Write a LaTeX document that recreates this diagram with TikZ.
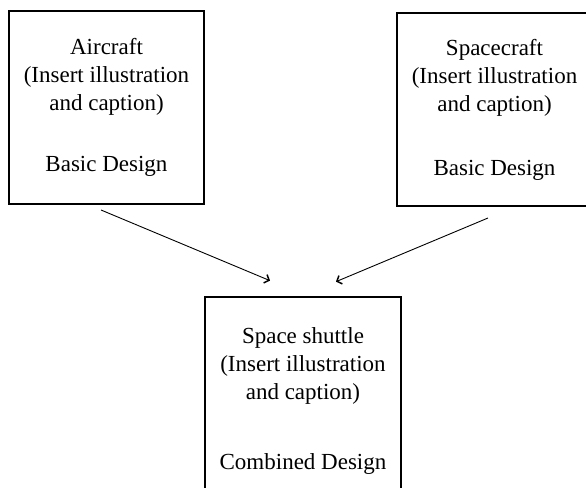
\documentclass[tikz,border=0pt]{standalone}
\usepackage{fontspec}
\setmainfont{Liberation Serif}
\usepackage{tikz}
\usetikzlibrary{arrows.meta}

\begin{document}
\begin{tikzpicture}[x=1pt, y=-1pt,
    designbox/.style={draw, line width=2.7pt, minimum width=195pt, align=center,
        font=\fontsize{23}{28}\selectfont, inner sep=0pt},
    >={Straight Barb[length=4pt, width=9pt, line width=1.5pt]}]
    % Fix the size of the picture and cut off what runs past it
    \useasboundingbox (0,0) rectangle (586,487);
    \clip (0,0) rectangle (586,487);

    % Draw the two basic design boxes
    \node[designbox, minimum height=193pt] (aircraft) at (106.5,107.5)
        {Aircraft\\(Insert illustration\\and caption)\\[33pt]Basic Design};
    \node[designbox, minimum height=193pt] (spacecraft) at (494.5,109.5)
        {Spacecraft\\(Insert illustration\\and caption)\\[36pt]Basic Design};

    % Draw the combined design box, cut off at the bottom
    \node[designbox, minimum width=196pt, minimum height=208pt] (shuttle) at (303,401)
        {Space shuttle\\(Insert illustration\\and caption)\\[42pt]Combined Design};

    % Free ends of the arrows
    \coordinate (aircraftTail) at (101,210);
    \coordinate (spacecraftTail) at (488,218);
    \coordinate (shuttleLeft) at ([xshift=-33pt, yshift=15pt]shuttle.north);
    \coordinate (shuttleRight) at ([xshift=33pt, yshift=14pt]shuttle.north);

    % Draw the arrows into the combined design
    \draw[->, line width=0.9pt] (aircraftTail) -- (shuttleLeft);
    \draw[->, line width=0.9pt] (spacecraftTail) -- (shuttleRight);
\end{tikzpicture}
\end{document}
